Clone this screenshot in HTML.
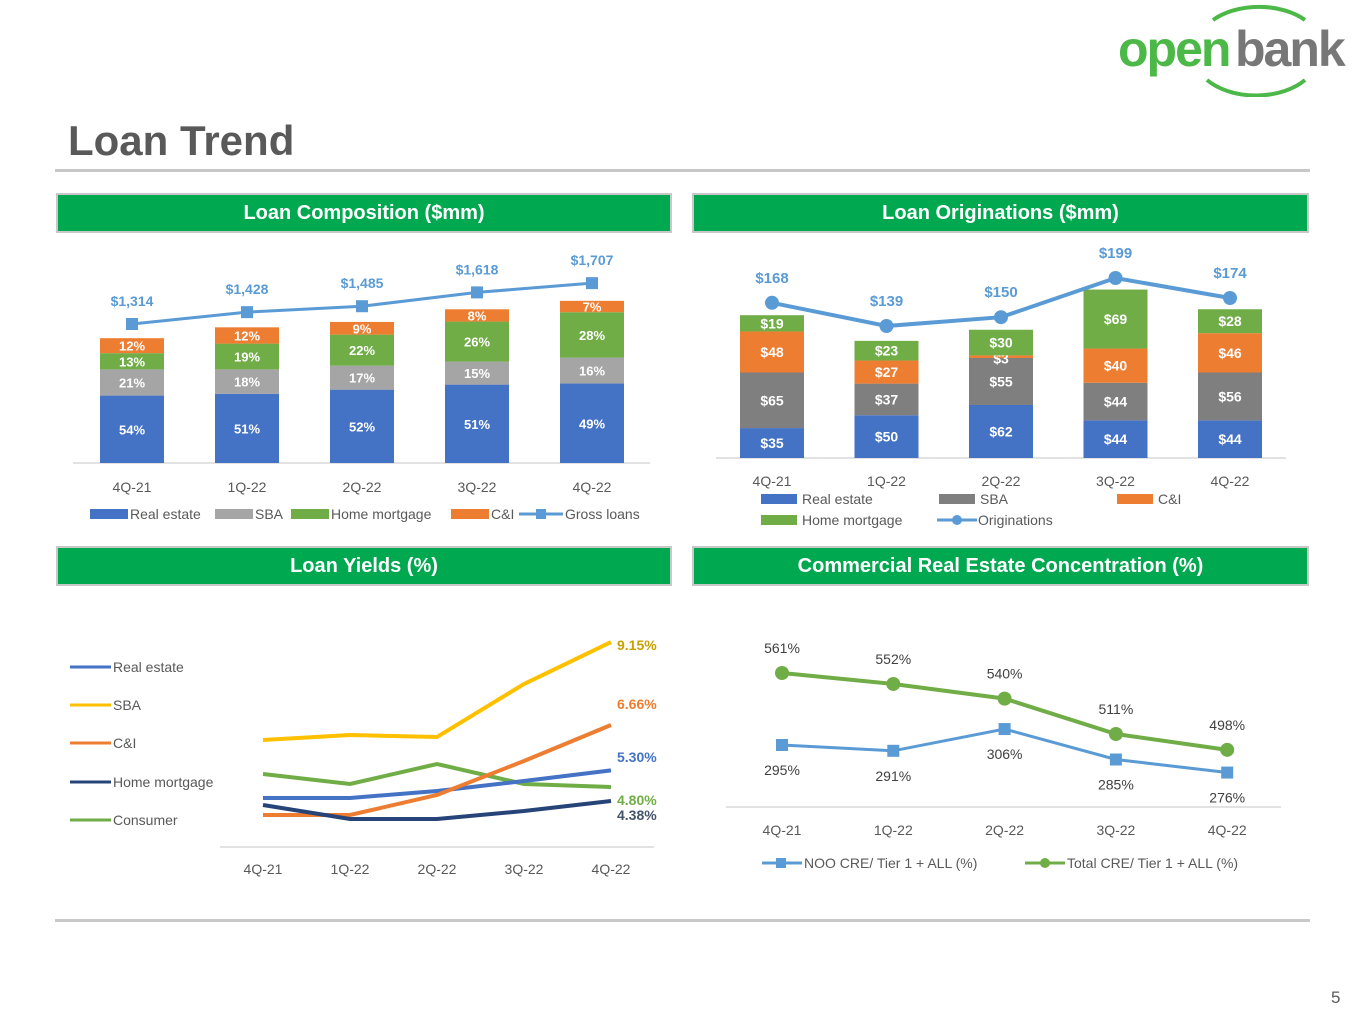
<!DOCTYPE html>
<html><head><meta charset="utf-8">
<style>
body{margin:0;width:1365px;height:1024px;background:#fff;font-family:"Liberation Sans",sans-serif;position:relative;overflow:hidden}
.hdr{position:absolute;height:40px;background:#00A94F;border:2px solid #c8c8c8;box-sizing:border-box;color:#fff;font-weight:bold;font-size:20px;text-align:center;line-height:37px}
svg text{font-family:"Liberation Sans",sans-serif}
</style></head>
<body>
<div style="position:absolute;left:1115px;top:2px;width:250px;height:95px">
<svg width="250" height="95"><path d="M98 18 A62 40 0 0 1 190 18" stroke="#4cb848" stroke-width="4" fill="none"/><path d="M92 78 A62 40 0 0 0 190 78" stroke="#4cb848" stroke-width="4" fill="none"/>
<text x="3" y="64" font-size="50" font-weight="bold" fill="#4cb848" letter-spacing="-2">open</text><text x="120" y="64" font-size="50" font-weight="bold" fill="#777" letter-spacing="-2">bank</text></svg></div>
<div style="position:absolute;left:68px;top:117px;font-size:42px;font-weight:bold;color:#595959">Loan Trend</div>
<div style="position:absolute;left:55px;top:169px;width:1255px;height:3px;background:#c8c8c8"></div>
<div style="position:absolute;left:55px;top:919px;width:1255px;height:3px;background:#c8c8c8"></div>
<div style="position:absolute;left:1331px;top:988px;font-size:17px;color:#595959">5</div>
<div class="hdr" style="left:56px;top:193px;width:616px">Loan Composition ($mm)</div>
<div class="hdr" style="left:692px;top:193px;width:617px">Loan Originations ($mm)</div>
<div class="hdr" style="left:56px;top:546px;width:616px">Loan Yields (%)</div>
<div class="hdr" style="left:692px;top:546px;width:617px">Commercial Real Estate Concentration (%)</div>
<svg id="chart" width="1365" height="1024" style="position:absolute;left:0;top:0"></svg>
<script>
const quarters=["4Q-21","1Q-22","2Q-22","3Q-22","4Q-22"];
// Loan composition
const compGross=[1314,1428,1485,1618,1707];
const compRE=[54,51,52,51,49];
const compSBA=[21,18,17,15,16];
const compHM=[13,19,22,26,28];
const compCI=[12,12,9,8,7];
// Originations
const origRE=[35,50,62,44,44];
const origSBA=[65,37,55,44,56];
const origCI=[48,27,3,40,46];
const origHM=[19,23,30,69,28];
const origTotal=[168,139,150,199,174];
// Yields
const yRE=[4.47,4.47,4.68,4.98,5.30];
const ySBA=[6.21,6.36,6.30,7.89,9.15];
const yCI=[3.96,3.96,4.56,5.58,6.66];
const yHM=[4.26,3.84,3.84,4.08,4.38];
const yCons=[5.19,4.89,5.49,4.89,4.80];
// CRE
const creNOO=[295,291,306,285,276];
const creTotal=[561,552,540,511,498];

const S=document.getElementById('chart');const NS='http://www.w3.org/2000/svg';
function el(t,a,txt){const e=document.createElementNS(NS,t);for(const k in a)e.setAttribute(k,a[k]);if(txt!==undefined)e.textContent=txt;S.appendChild(e);return e;}
const BLUE='#4472C4',GREY='#A5A5A5',DGREY='#7F7F7F',ORANGE='#ED7D31',GREEN='#70AD47',LBLUE='#5B9BD5',YEL='#FFC000',NAVY='#264478';

// ---- composition
const cx=i=>132+i*115, cBase=463, cK=0.0950;
el('line',{x1:73,y1:cBase,x2:650,y2:cBase,stroke:'#d9d9d9','stroke-width':1.5});
quarters.forEach((q,i)=>{
 const H=compGross[i]*cK;let y=cBase;
 [[compRE,BLUE],[compSBA,GREY],[compHM,GREEN],[compCI,ORANGE]].forEach(([arr,c])=>{
  const h=H*arr[i]/100;y-=h;
  const r=el('rect',{x:cx(i)-32,y:y,width:64,height:h,fill:c});
  
  
  const t=el('text',{x:cx(i),y:y+h/2+5,'text-anchor':'middle','font-size':13,'font-weight':'bold',fill:'#fff'},arr[i]+'%');
  
  
 });
 const t=el('text',{x:cx(i),y:492,'text-anchor':'middle','font-size':14,fill:'#595959'},q);
 
 
});
const gy=v=>324-(v-1314)*0.104;
el('polyline',{points:compGross.map((v,i)=>cx(i)+','+gy(v)).join(' '),fill:'none',stroke:LBLUE,'stroke-width':3});
compGross.map((v,i)=>{
 const m=el('rect',{x:cx(i)-6,y:gy(v)-6,width:12,height:12,fill:LBLUE});
 
 
 el('text',{x:cx(i),y:gy(v)-18,'text-anchor':'middle','font-size':14,'font-weight':'bold',fill:LBLUE},'$'+v.toLocaleString('en-US'));
});
[[90,'Real estate',BLUE,0],[215,'SBA',GREY,0],[291,'Home mortgage',GREEN,0],[451,'C&I',ORANGE,0],[519,'Gross loans',LBLUE,1]].forEach(([x,l,c,ln])=>{
 if(ln){el('line',{x1:x,y1:514,x2:x+44,y2:514,stroke:c,'stroke-width':3});el('rect',{x:x+17,y:509,width:10,height:10,fill:c});}
 else el('rect',{x:x,y:509,width:38,height:10,fill:c});
 const t=el('text',{x:x+(ln?46:40),y:519,'font-size':14,fill:'#595959'},l);
 
 
});

// ---- originations
const ox=i=>772+i*114.5, oBase=458, oK=0.855;
el('line',{x1:716,y1:oBase,x2:1286,y2:oBase,stroke:'#d9d9d9','stroke-width':1.5});
quarters.forEach((q,i)=>{
 let y=oBase;
 [[origRE,BLUE],[origSBA,DGREY],[origCI,ORANGE],[origHM,GREEN]].forEach(([arr,c],k)=>{
  const h=arr[i]*oK;y-=h;
  const r=el('rect',{x:ox(i)-32,y:y,width:64,height:h,fill:c});
  
  
  let ly=y+h/2+5; if(h<12) ly=y+8;
  const t=el('text',{x:ox(i),y:ly,'text-anchor':'middle','font-size':14,'font-weight':'bold',fill:'#fff'},'$'+arr[i]);
  
  
 });
 const t=el('text',{x:ox(i),y:486,'text-anchor':'middle','font-size':14,fill:'#595959'},q);
 
 
});
const oy=v=>326-(v-139)*0.8;
el('polyline',{points:origTotal.map((v,i)=>ox(i)+','+oy(v)).join(' '),fill:'none',stroke:LBLUE,'stroke-width':4});
origTotal.forEach((v,i)=>{
 const c=el('circle',{cx:ox(i),cy:oy(v),r:7,fill:LBLUE});
 
 
 el('text',{x:ox(i),y:oy(v)-20,'text-anchor':'middle','font-size':15,'font-weight':'bold',fill:LBLUE},'$'+v);
});
[[761,494,'Real estate',BLUE,0],[939,494,'SBA',DGREY,0],[1117,494,'C&I',ORANGE,0],[761,515,'Home mortgage',GREEN,0],[937,515,'Originations',LBLUE,1]].forEach(([x,y,l,c,ln])=>{
 if(ln){el('line',{x1:x,y1:y+5,x2:x+40,y2:y+5,stroke:c,'stroke-width':3});el('circle',{cx:x+20,cy:y+5,r:5,fill:c});}
 else el('rect',{x:x,y:y,width:36,height:10,fill:c});
 const t=el('text',{x:x+41,y:y+10,'font-size':14,fill:'#595959'},l);
 
 
});

// ---- yields
const yx=i=>263+i*87, yy=v=>801-(v-4.38)*33.33;
el('line',{x1:220,y1:847,x2:654,y2:847,stroke:'#d9d9d9','stroke-width':1.5});
quarters.forEach((q,i)=>{const t=el('text',{x:yx(i),y:874,'text-anchor':'middle','font-size':14,fill:'#595959'},q);
 
 });
[[yCons,GREEN,'Consumer','4.80%',805],[yRE,BLUE,'Real estate','5.30%',762],[yCI,ORANGE,'C&I','6.66%',709],[yHM,NAVY,'Home mortgage','4.38%',820],[ySBA,YEL,'SBA','9.15%',650]].forEach(([arr,c,l,lab,ly])=>{
 const p=el('polyline',{points:arr.map((v,i)=>yx(i)+','+yy(v)).join(' '),fill:'none',stroke:c,'stroke-width':4});
 
 
 el('text',{x:617,y:ly,'font-size':14,'font-weight':'bold',fill:c==YEL?'#C9A000':c==NAVY?'#44546A':c},lab);
});
[['Real estate',BLUE,667],['SBA',YEL,705],['C&I',ORANGE,743],['Home mortgage',NAVY,782],['Consumer',GREEN,820]].forEach(([l,c,y])=>{
 el('line',{x1:70,y1:y,x2:111,y2:y,stroke:c,'stroke-width':3});
 const t=el('text',{x:113,y:y+5,'font-size':14,fill:'#595959'},l);
 
 
});

// ---- CRE
const rx=i=>782+i*111.3, ryT=v=>673+(561-v)*1.22, ryN=v=>745+(295-v)*1.45;
el('line',{x1:726,y1:807,x2:1281,y2:807,stroke:'#d9d9d9','stroke-width':1.5});
quarters.forEach((q,i)=>{const t=el('text',{x:rx(i),y:835,'text-anchor':'middle','font-size':14,fill:'#595959'},q);
 
 });
el('polyline',{points:creTotal.map((v,i)=>rx(i)+','+ryT(v)).join(' '),fill:'none',stroke:GREEN,'stroke-width':4});
el('polyline',{points:creNOO.map((v,i)=>rx(i)+','+ryN(v)).join(' '),fill:'none',stroke:LBLUE,'stroke-width':3});
creTotal.forEach((v,i)=>{const c=el('circle',{cx:rx(i),cy:ryT(v),r:7,fill:GREEN});
 
 
 el('text',{x:rx(i),y:ryT(v)-20,'text-anchor':'middle','font-size':14,fill:'#404040'},v+'%');});
creNOO.forEach((v,i)=>{const m=el('rect',{x:rx(i)-6,y:ryN(v)-6,width:12,height:12,fill:LBLUE});
 
 
 el('text',{x:rx(i),y:ryN(v)+30,'text-anchor':'middle','font-size':14,fill:'#404040'},v+'%');});
el('line',{x1:762,y1:863,x2:802,y2:863,stroke:LBLUE,'stroke-width':3});el('rect',{x:776,y:858,width:10,height:10,fill:LBLUE});
let t1=el('text',{x:804,y:868,'font-size':14,fill:'#595959'},'NOO CRE/ Tier 1 + ALL (%)');


el('line',{x1:1025,y1:863,x2:1065,y2:863,stroke:GREEN,'stroke-width':3});el('circle',{cx:1045,cy:863,r:5,fill:GREEN});
let t2=el('text',{x:1067,y:868,'font-size':14,fill:'#595959'},'Total CRE/ Tier 1 + ALL (%)');


</script>
</body></html>
